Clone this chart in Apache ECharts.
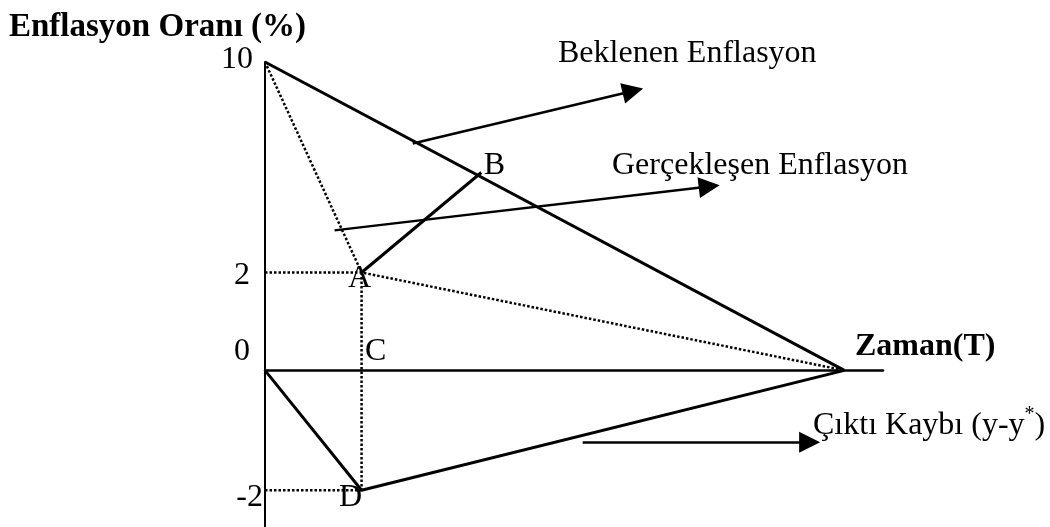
<!DOCTYPE html>
<html>
<head>
<meta charset="utf-8">
<script src="https://cdn.jsdelivr.net/npm/echarts@6/dist/echarts.min.js"></script>
<style>
  html, body { margin: 0; background: #fff; }
  #chart { width: 1050px; height: 527px; }
</style>
</head>
<body>
<div id="chart"></div>
<script>
// tick values on the vertical axis and where they sit on the (schematic) drawn scale
var yTickValues = [10, 2, 0, -2];
var yTickLabels = ["10", "2", "0", "-2"];
var yTickPlaces = [6.3, 2, 0, -2.45];

// x = time, y = inflation / output gap (%)
var expectedLine = [[0, 10], [6, 0]];
var dottedPath = [[0, 10], [1, 2], [6, 0]];
var pathAB = [[1, 2], [2.24, 5.8]];
var outputLoss = [[0, 0], [1, -2], [6, 0]];
var guideA = [[0, 2], [1, 2]];
var guideAD = [[1, 2], [1, -2]];
var guideD = [[0, -2], [1, -2]];

var pointNames = ["A", "B", "C", "D"];
var pointValues = [[1, 2], [2.24, 5.8], [1, 0], [1, -2]];

var arrowExpected = [[1.53, 6.9], [3.81, 8.9]];
var arrowRealized = [[0.72, 3.6], [4.6, 5.27]];
var arrowLoss = [[3.29, -1.2], [5.64, -1.2]];

// piecewise linear placement between the labelled ticks
function place(v) {
  var vs = yTickValues.slice().reverse();
  var ps = yTickPlaces.slice().reverse();
  for (var i = 1; i < vs.length; i++) {
    if (v <= vs[i] || i == vs.length - 1) {
      return ps[i - 1] + (v - vs[i - 1]) / (vs[i] - vs[i - 1]) * (ps[i] - ps[i - 1]);
    }
  }
}
function toPlot(pts) {
  return pts.map(function (p) { return [p[0], place(p[1])]; });
}

var font = "Liberation Serif";
var solid = { color: "#000", width: 3 };
var dotted = { color: "#000", width: 2.5, type: [2.5, 2] };

function lineSeries(data, style) {
  return {
    type: "line",
    data: toPlot(data),
    showSymbol: false,
    symbol: "none",
    lineStyle: style,
    silent: true,
    z: 3,
  };
}

// small nudges for letters (px)
var letterOffsets = [[-2, 6], [13, -7], [14, -19], [-11, 7]];

var myChart = echarts.init(document.getElementById("chart"));

var option = {
  animation: false,
  title: {
    text: "Enflasyon Oranı (%)",
    left: 4,
    top: 6,
    textStyle: { fontFamily: font, fontWeight: "bold", fontSize: 33, color: "#000" },
  },
  grid: { left: 265, right: 167, top: 62, bottom: 0, outerBoundsMode: "none" },
  xAxis: {
    type: "value",
    min: 0,
    max: 6.4,
    name: "Zaman(T)",
    nameLocation: "end",
    nameGap: -28,
    nameTextStyle: {
      fontFamily: font,
      fontWeight: "bold",
      fontSize: 32,
      color: "#000",
      verticalAlign: "bottom",
      padding: [0, 0, 8, 0],
    },
    axisLine: { show: true, onZero: true, lineStyle: { color: "#000", width: 2.5 } },
    axisTick: { show: false },
    axisLabel: { show: false },
    splitLine: { show: false },
  },
  yAxis: {
    type: "value",
    min: -3.2,
    max: 6.3,
    axisLine: { show: true, lineStyle: { color: "#000", width: 2 } },
    axisTick: { show: false },
    splitLine: { show: false },
    axisLabel: {
      customValues: yTickPlaces,
      margin: 2,
      formatter: function (value) {
        for (var i = 0; i < yTickPlaces.length; i++) {
          if (Math.abs(yTickPlaces[i] - value) < 1e-6) {
            return "{t" + i + "|" + yTickLabels[i] + "}";
          }
        }
        return "";
      },
      rich: {
        t0: { fontFamily: font, fontSize: 32, color: "#000", padding: [0, 10, 4, 0] },
        t1: { fontFamily: font, fontSize: 32, color: "#000", padding: [6, 13, 0, 0] },
        t2: { fontFamily: font, fontSize: 32, color: "#000", padding: [0, 13, 38, 0] },
        t3: { fontFamily: font, fontSize: 32, color: "#000", padding: [15, 0, 0, 0] },
      },
    },
  },
  graphic: [
    {
      type: "text",
      x: 558,
      y: 54,
      style: { text: "Beklenen Enflasyon", fontFamily: font, fontSize: 32, fill: "#000", verticalAlign: "middle" },
    },
    {
      type: "text",
      x: 612,
      y: 166,
      style: { text: "Gerçekleşen Enflasyon", fontFamily: font, fontSize: 32, fill: "#000", verticalAlign: "middle" },
    },
    {
      type: "text",
      x: 813,
      y: 426,
      style: {
        text: "{n|Çıktı Kaybı (y-y}{s|*}{n|)}",
        verticalAlign: "middle",
        rich: {
          n: { fontFamily: font, fontSize: 32, fill: "#000" },
          s: { fontFamily: font, fontSize: 20, fill: "#000", padding: [0, 0, 22, 0] },
        },
      },
    },
  ],
  series: [
    lineSeries(expectedLine, solid),
    lineSeries(dottedPath, dotted),
    lineSeries(pathAB, solid),
    lineSeries(outputLoss, solid),
    lineSeries(guideA, dotted),
    lineSeries(guideAD, dotted),
    lineSeries(guideD, dotted),
    {
      type: "lines",
      coordinateSystem: "cartesian2d",
      symbol: ["none", "triangle"],
      symbolSize: 21,
      lineStyle: { color: "#000", width: 2.5, opacity: 1, curveness: 0 },
      data: [arrowExpected, arrowRealized, arrowLoss].map(function (a) {
        return { coords: toPlot(a) };
      }),
      silent: true,
      z: 4,
    },
    {
      type: "scatter",
      symbolSize: 0,
      silent: true,
      z: 5,
      itemStyle: { opacity: 1 },
      data: pointValues.map(function (p, i) {
        return {
          name: pointNames[i],
          value: [p[0], place(p[1])],
          label: { offset: letterOffsets[i] },
        };
      }),
      label: {
        show: true,
        position: "inside",
        formatter: "{b}",
        fontFamily: font,
        fontSize: 32,
        color: "#000",
        opacity: 1,
      },
    },
  ],
};

myChart.setOption(option);
window.addEventListener("resize", function () {
  myChart.resize();
});
</script>
</body>
</html>
